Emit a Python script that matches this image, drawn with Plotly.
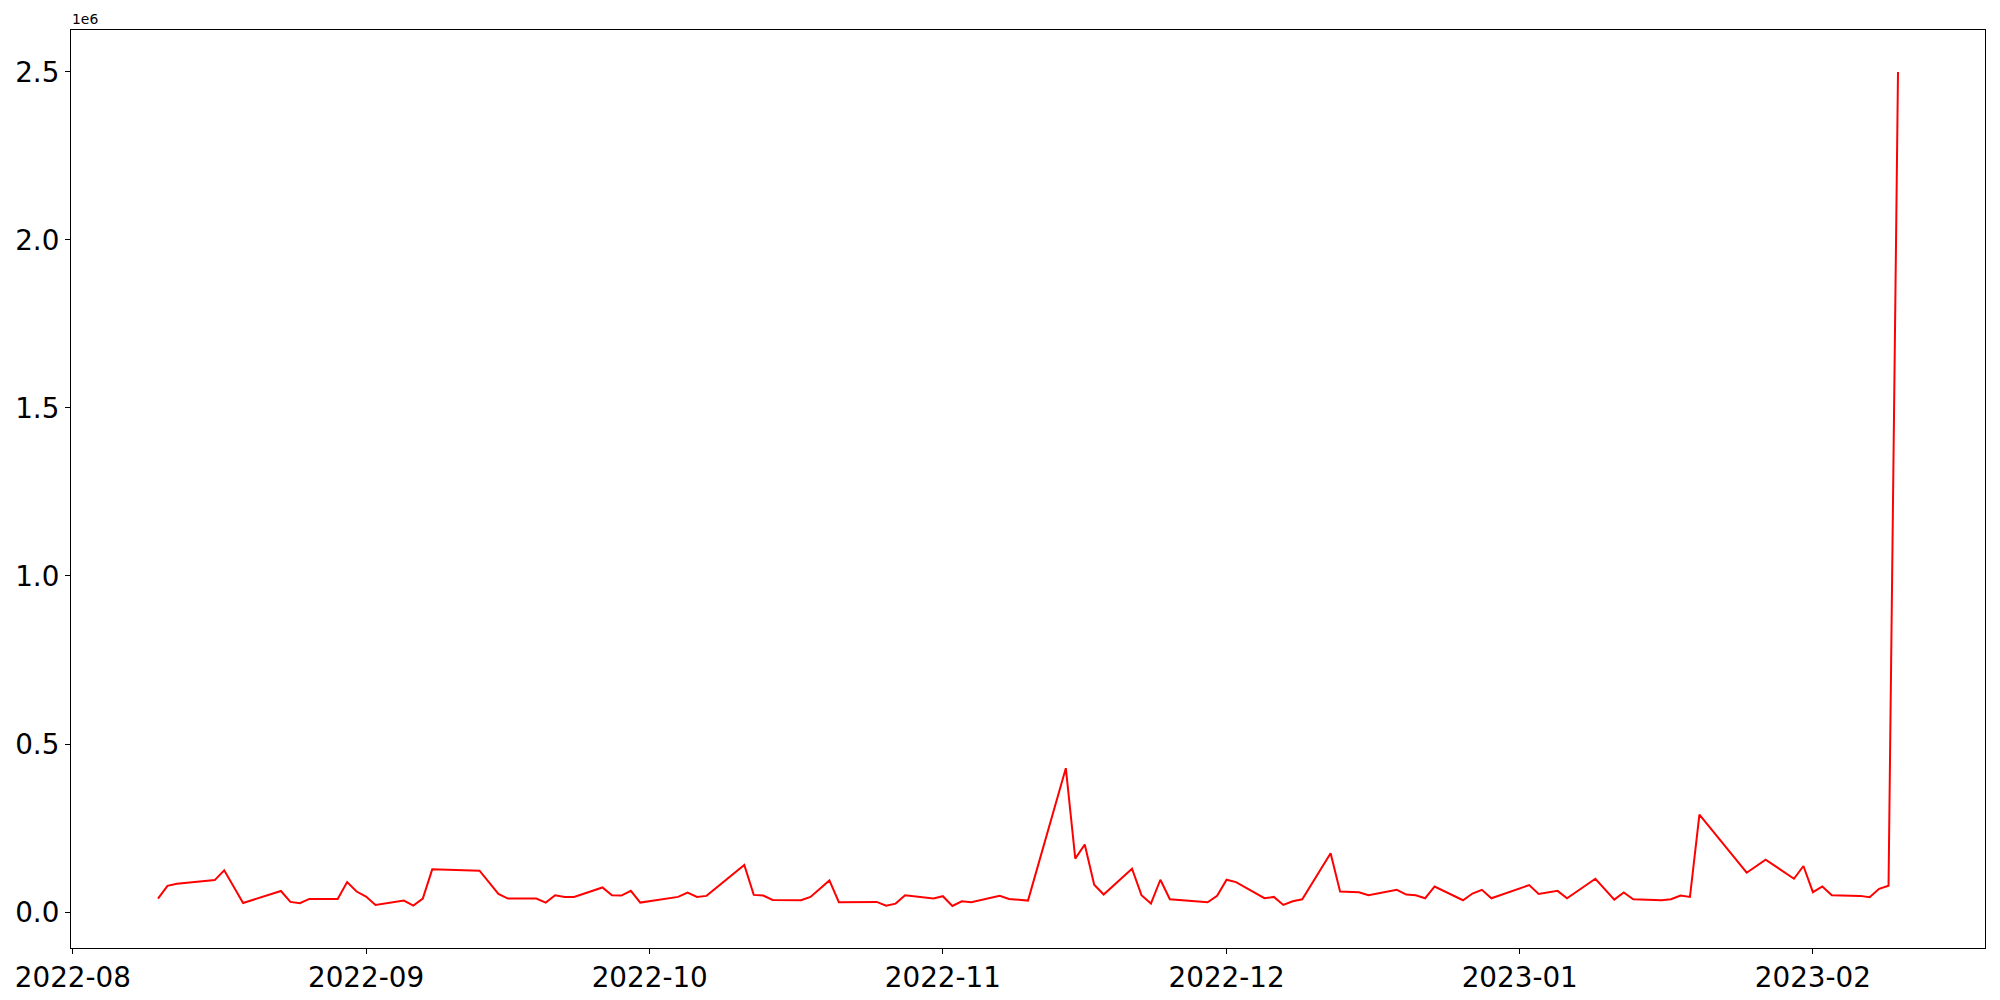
import plotly.graph_objects as go

dates = [
    "2022-08-10", "2022-08-11", "2022-08-12", "2022-08-16", "2022-08-17", "2022-08-19",
    "2022-08-23", "2022-08-24", "2022-08-25", "2022-08-26", "2022-08-29", "2022-08-30",
    "2022-08-31", "2022-09-01", "2022-09-02", "2022-09-05", "2022-09-06", "2022-09-07",
    "2022-09-08", "2022-09-13", "2022-09-15", "2022-09-16", "2022-09-19", "2022-09-20",
    "2022-09-21", "2022-09-22", "2022-09-23", "2022-09-26", "2022-09-27", "2022-09-28",
    "2022-09-29", "2022-09-30", "2022-10-04", "2022-10-05", "2022-10-06", "2022-10-07",
    "2022-10-11", "2022-10-12", "2022-10-13", "2022-10-14", "2022-10-17", "2022-10-18",
    "2022-10-20", "2022-10-21", "2022-10-25", "2022-10-26", "2022-10-27", "2022-10-28",
    "2022-10-31", "2022-11-01", "2022-11-02", "2022-11-03", "2022-11-04", "2022-11-07",
    "2022-11-08", "2022-11-10", "2022-11-14", "2022-11-15", "2022-11-16", "2022-11-17",
    "2022-11-18", "2022-11-21", "2022-11-22", "2022-11-23", "2022-11-24", "2022-11-25",
    "2022-11-29", "2022-11-30", "2022-12-01", "2022-12-02", "2022-12-05", "2022-12-06",
    "2022-12-07", "2022-12-08", "2022-12-09", "2022-12-12", "2022-12-13", "2022-12-15",
    "2022-12-16", "2022-12-19", "2022-12-20", "2022-12-21", "2022-12-22", "2022-12-23",
    "2022-12-26", "2022-12-27", "2022-12-28", "2022-12-29", "2023-01-02", "2023-01-03",
    "2023-01-05", "2023-01-06", "2023-01-09", "2023-01-11", "2023-01-12", "2023-01-13",
    "2023-01-16", "2023-01-17", "2023-01-18", "2023-01-19", "2023-01-20", "2023-01-25",
    "2023-01-27", "2023-01-30", "2023-01-31", "2023-02-01", "2023-02-02", "2023-02-03",
    "2023-02-06", "2023-02-07", "2023-02-08", "2023-02-09", "2023-02-10",
]

values = [
    39600, 78000, 84000, 95000, 124000, 27000,
    62500, 30000, 26000, 39000, 39000, 89000,
    61000, 46000, 21000, 34000, 19000, 40000,
    127000, 123000, 54000, 40000, 40000, 28000,
    50000, 45000, 45000, 73000, 50000, 49000,
    63000, 28000, 45000, 58000, 45000, 48000,
    140000, 51000, 49000, 36000, 35000, 45000,
    94000, 29000, 30000, 19000, 25000, 50000,
    40000, 47000, 18000, 32000, 29000, 48000,
    39000, 34000, 428000, 159000, 201000, 81000,
    52000, 129000, 50000, 25000, 96000, 38000,
    29000, 48000, 96000, 89000, 41000, 45000,
    21000, 32000, 38000, 175000, 61000, 59000,
    50000, 66000, 52000, 50000, 41000, 76000,
    35000, 55000, 66000, 41000, 80000, 54000,
    63000, 41000, 99000, 37000, 58000, 38000,
    35000, 38000, 49000, 45000, 290000, 117000,
    156000, 99000, 137000, 59000, 76000, 50000,
    48000, 44000, 69000, 78000, 2500000,
]

x_tick_vals = ["2022-08-01", "2022-09-01", "2022-10-01", "2022-11-01",
               "2022-12-01", "2023-01-01", "2023-02-01"]
x_tick_text = ["2022-08", "2022-09", "2022-10", "2022-11", "2022-12", "2023-01", "2023-02"]
y_tick_vals = [0, 500000, 1000000, 1500000, 2000000, 2500000]
y_tick_text = ["0.0", "0.5", "1.0", "1.5", "2.0", "2.5"]

fig = go.Figure()
fig.add_trace(go.Scatter(
    x=dates, y=values, mode="lines",
    line=dict(color="#ff0000", width=2),
    showlegend=False,
))

axis_common = dict(
    showgrid=False, zeroline=False, showline=True, mirror=True,
    linecolor="black", linewidth=1.1, ticks="outside", ticklen=5,
    tickwidth=1.1, tickcolor="black", automargin=False,
    tickfont=dict(family="DejaVu Sans", size=27.8, color="black"),
)

fig.update_layout(
    width=2000, height=1000,
    paper_bgcolor="white", plot_bgcolor="white",
    margin=dict(l=71, r=15, t=30, b=52, autoexpand=False),
    xaxis=dict(type="date", range=["2022-07-31 19:12", "2023-02-19 04:48"],
               tickmode="array", tickvals=x_tick_vals, ticktext=x_tick_text,
               **axis_common),
    yaxis=dict(range=[-107100, 2624900], tickmode="array",
               tickvals=y_tick_vals, ticktext=y_tick_text, **axis_common),
    annotations=[dict(
        text="1e6", xref="paper", yref="paper", x=0, y=1,
        xanchor="left", yanchor="bottom", showarrow=False, borderpad=0,
        yshift=2, font=dict(family="DejaVu Sans", size=13.9, color="black"),
    )],
)

fig.write_html(
    "out.html",
    config={"displayModeBar": False},
    post_script="document.body.style.margin='0';document.body.style.padding='0';"
                "document.body.style.overflow='hidden';",
)
